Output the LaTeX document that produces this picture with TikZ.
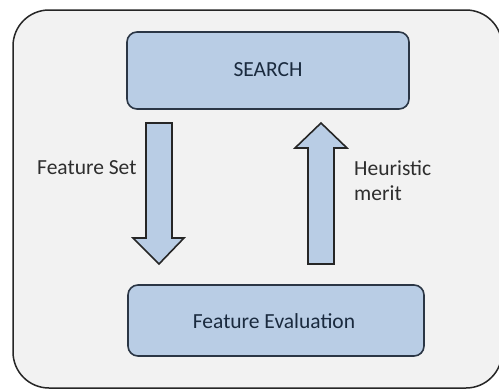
\documentclass[tikz,border=0pt]{standalone}
\usepackage{fontspec}
\setmainfont{Carlito}
\definecolor{bgouter}{HTML}{F2F2F2}
\definecolor{boxfill}{HTML}{B9CDE5}
\definecolor{boxline}{HTML}{2B3645}
\definecolor{boxtext}{HTML}{1A2A3E}
\definecolor{labtext}{HTML}{2E2E2E}
\begin{document}
\begin{tikzpicture}[x=1pt,y=-1pt,
  blockbox/.style={draw=boxline,fill=boxfill,line width=1.6pt,rounded corners=10pt},
  boxlabel/.style={text=boxtext,font=\fontsize{21.5}{24}\selectfont},
  sidelabel/.style={text=labtext,font=\fontsize{21.5}{25}\selectfont,align=left},
  blockarrow/.style={draw=black!85,fill=boxfill,line width=1.6pt,line join=miter}]
\useasboundingbox (0,0) rectangle (499,389);
\fill[white] (0,0) rectangle (499,389);
\begin{scope}
\clip (0,0) rectangle (499,389);
\draw[fill=bgouter,draw=black!85,line width=1.5pt,rounded corners=36pt] (13,10) rectangle (502,388);
\end{scope}
% boxes
\draw[blockbox] (127,32) rectangle (409,109);
\node[boxlabel] (search) at (268,70) {SEARCH};
\draw[blockbox] (128,285) rectangle (424,356);
\node[boxlabel] (feval) at (274,321) {Feature Evaluation};
% down arrow
\draw[blockarrow] (146,123) -- (172,123) -- (172,238) -- (184,238) -- (159,264) -- (133,238) -- (146,238) -- cycle;
% up arrow
\draw[blockarrow] (308,264) -- (334,264) -- (334,148) -- (347,148) -- (321,123) -- (295,148) -- (308,148) -- cycle;
% labels
\node[sidelabel,anchor=west,inner sep=0pt] (fset) at (37,168) {Feature Set};
\node[sidelabel,anchor=west,inner sep=0pt] (merit) at (354,181) {Heuristic\\merit};
\end{tikzpicture}
\end{document}
